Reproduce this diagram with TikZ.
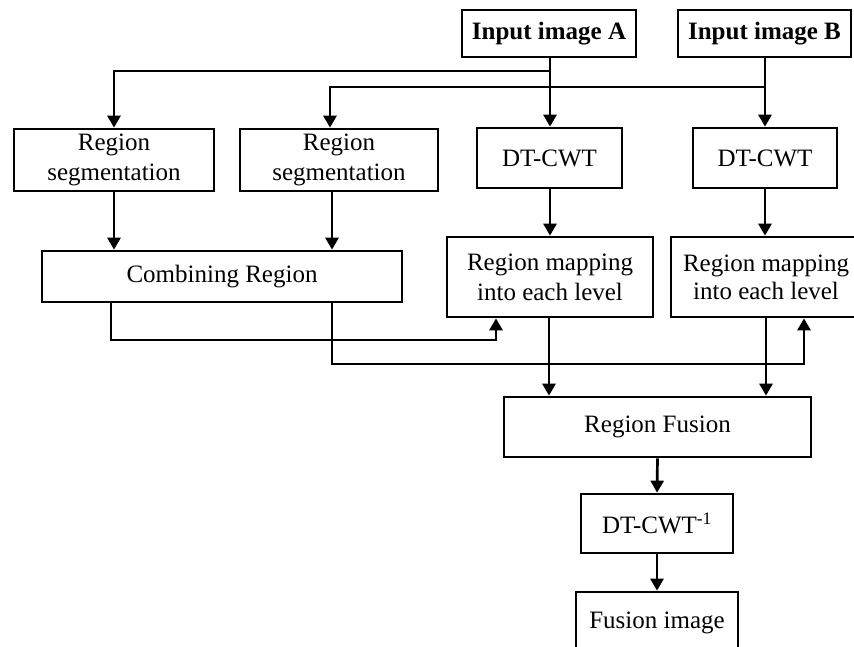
\documentclass[tikz,border=0pt]{standalone}
\usepackage{fontspec}
\setmainfont{Liberation Serif}
\usetikzlibrary{arrows.meta,calc}
\begin{document}
\begin{tikzpicture}[x=1pt,y=-1pt,
  box/.style={draw, line width=2.7pt, inner sep=0pt, align=center,
    font=\fontsize{25}{30}\selectfont},
  conn/.style={line width=2.7pt},
  arr/.style={conn, -{Triangle[length=12pt,width=13pt]}}]
\useasboundingbox (0,0) rectangle (854,646);
\clip (0,0) rectangle (854,646);
% nodes
\node[box, minimum width=174, minimum height=47, font=\fontsize{25}{30}\selectfont\bfseries] (inA) at (549,33.5) {Input image A};
\node[box, minimum width=173, minimum height=47, font=\fontsize{25}{30}\selectfont\bfseries] (inB) at (764.5,33.5) {Input image B};
\node[box, minimum width=200, minimum height=62] (seg1) at (114,160) {Region\\segmentation};
\node[box, minimum width=198, minimum height=62] (seg2) at (339,160) {Region\\segmentation};
\node[box, minimum width=145, minimum height=60] (dtA) at (549.5,158) {DT-CWT};
\node[box, minimum width=144, minimum height=60] (dtB) at (765,158) {DT-CWT};
\node[box, minimum width=360, minimum height=51] (comb) at (222,276.5) {Combining Region};
\node[box, minimum width=206, minimum height=80] (mapA) at (550,277) {Region mapping\\into each level};
\node[box, minimum width=190, minimum height=80] (mapB) at (766,277) {Region mapping\\[-2pt]into each level};
\node[box, minimum width=307, minimum height=60] (fus) at (657.5,427) {Region Fusion};
\node[box, minimum width=152, minimum height=59] (inv) at (657,523.5) {DT-CWT\textsuperscript{-1}};
\node[box, minimum width=162, minimum height=62] (out) at (657,623) {Fusion image};
% helper coordinates
\coordinate (jA) at (550,71);
\coordinate (jB) at (765,87);
\coordinate (c1) at (111,340);
\coordinate (c2) at (332,364);
\coordinate (eA) at (496,340);
\coordinate (eB) at (804,364);
% connectors from inputs
\draw[arr] (inA.south -| jA) -- (dtA.north -| jA);
\draw[arr] (inB.south -| jB) -- (dtB.north -| jB);
\draw[arr] (jA) -| (seg1.north);
\draw[arr] (jB) -| ($(seg2.north)+(-9,0)$);
% segmentation to combining
\draw[arr] (seg1.south) -- (seg1.south |- comb.north);
\draw[arr] ($(seg2.south)+(-7,0)$) -- ($(seg2.south |- comb.north)+(-7,0)$);
% DT-CWT to mapping
\draw[arr] (dtA.south -| jA) -- (mapA.north -| jA);
\draw[arr] (dtB.south -| jB) -- (mapB.north -| jB);
% combining to mappings
\draw[arr] (comb.south -| c1) -- (c1) -- (eA) -- (mapA.south -| eA);
\draw[arr] (comb.south -| c2) -- (c2) -- (eB) -- (mapB.south -| eB);
% mapping to fusion
\draw[arr] ($(mapA.south)+(-1,0)$) -- ($(fus.north -| mapA.south)+(-1,0)$);
\draw[arr] (mapB.south) -- (fus.north -| mapB.south);
% fusion chain
\draw[arr] (fus.south) -- (inv.north);
\draw[arr] (inv.south) -- (out.north);
\end{tikzpicture}
\end{document}
